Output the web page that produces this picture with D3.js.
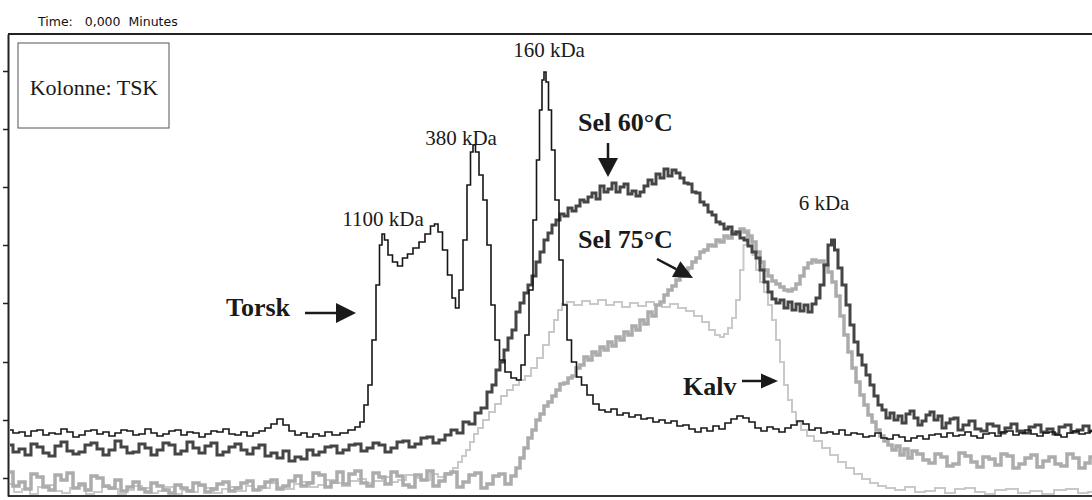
<!DOCTYPE html>
<html>
<head>
<meta charset="utf-8">
<script src="https://cdn.jsdelivr.net/npm/d3@7"></script>
<style>
  body { margin: 0; background: #fff; }
  svg { display: block; }
  .label { font-family: "Liberation Serif", "Times New Roman", serif; font-size: 21px; fill: #1a1a1a; }
  .tag { font-family: "Liberation Serif", "Times New Roman", serif; font-size: 26px; font-weight: bold; fill: #1a1a1a; }
</style>
</head>
<body>
<script>
var w = 1092;
var h = 500;

// time in scan seconds, signal in mV
var torsk = [
  [2,48],[8,45],[14,46],[20,42],[26,47],[32,48],[38,43],[44,45],[50,44],[56,49],[62,46],[68,41],[74,43],[80,47],
  [86,48],[92,44],[98,46],[104,42],[110,45],[116,48],[122,47],[128,43],[134,44],[140,49],[146,45],[152,42],[158,44],
  [164,47],[170,48],[176,43],[182,46],[188,45],[194,41],[200,44],[206,47],[212,46],[218,49],[224,44],[230,43],[236,46],
  [242,42],[248,45],[254,47],[260,50],[266,54],[272,59],[278,53],[284,47],[290,43],[296,45],[302,41],[308,44],[314,42],
  [320,46],[328,43],[336,45],[344,48],[350,51],[354,56],[358,73],[362,93],[366,138],[370,193],[373,233],[375,244],
  [378,238],[382,223],[387,216],[392,212],[397,220],[402,224],[408,230],[414,236],[420,244],[425,252],[428,254],
  [432,246],[437,228],[442,203],[446,180],[449,170],[453,188],[457,238],[461,293],[464,326],[466,333],[469,326],
  [473,303],[477,278],[481,233],[485,173],[489,138],[494,118],[500,106],[506,100],[511,98],[515,113],[519,143],
  [523,188],[527,258],[530,318],[533,368],[535,398],[537,406],[539,396],[542,368],[545,328],[549,278],[553,218],
  [557,173],[561,138],[566,116],[571,101],[576,93],[582,83],[588,74],[594,68],[600,66],[606,69],[612,63],[618,65],
  [624,61],[630,63],[636,59],[642,60],[648,56],[654,58],[660,55],[666,57],[672,52],[678,53],[684,49],[690,46],[696,50],
  [702,47],[708,52],[714,49],[720,55],[726,59],[732,62],[738,60],[744,56],[750,50],[756,47],[762,51],[768,49],[774,46],
  [780,50],[786,53],[792,57],[798,54],[804,48],[810,50],[816,45],[822,46],[828,44],[834,48],[840,43],[846,45],[852,44],
  [858,41],[864,42],[870,45],[876,40],[882,39],[888,43],[894,41],[900,37],[906,40],[912,42],[918,39],[924,43],[930,44],
  [936,41],[942,45],[948,42],[954,43],[960,46],[966,42],[972,40],[978,44],[984,45],[990,42],[996,46],[1002,47],[1008,43],
  [1014,45],[1020,48],[1026,44],[1032,42],[1038,45],[1044,46],[1050,43],[1056,41],[1062,45],[1068,47],[1074,44],
  [1080,45],[1084,47]
];

var sel60 = [
  [2,33],[8,26],[14,29],[20,23],[26,34],[32,31],[38,25],[44,22],[50,32],[56,36],[62,27],[68,24],[74,26],[80,33],[86,35],
  [92,29],[98,23],[104,28],[110,37],[116,31],[122,25],[128,26],[134,34],[140,30],[146,23],[152,28],[158,35],[164,33],
  [170,24],[176,27],[182,36],[188,30],[194,25],[200,32],[206,35],[212,23],[218,26],[224,31],[230,34],[236,28],[242,24],
  [248,30],[254,33],[260,22],[266,25],[272,20],[278,27],[284,17],[290,21],[296,19],[302,28],[308,23],[314,26],[320,31],
  [326,32],[332,25],[338,28],[344,33],[350,34],[356,27],[362,30],[368,35],[374,33],[380,26],[386,30],[392,36],[398,37],
  [404,31],[410,34],[416,40],[422,41],[428,35],[434,38],[440,43],[446,48],[452,45],[458,56],[464,54],[470,65],[476,70],
  [482,86],[486,93],[490,108],[494,116],[498,128],[502,140],[506,148],[510,166],[514,175],[518,185],[522,193],[526,202],
  [530,216],[534,226],[538,238],[542,245],[546,253],[550,258],[554,264],[558,262],[562,270],[566,267],[570,272],[574,278],
  [578,276],[582,281],[586,285],[590,279],[594,292],[598,286],[602,289],[606,295],[610,286],[614,291],[618,294],[622,284],
  [626,287],[630,282],[634,286],[638,292],[642,298],[646,294],[650,304],[654,300],[658,309],[662,302],[666,308],[670,305],
  [674,300],[678,295],[682,294],[686,286],[690,285],[694,276],[698,273],[702,266],[706,263],[710,256],[714,254],[718,249],
  [722,251],[726,244],[730,246],[734,240],[738,238],[742,232],[746,226],[750,220],[754,208],[758,196],[762,186],[766,179],
  [770,175],[774,178],[778,170],[782,176],[786,168],[790,174],[794,167],[798,173],[802,166],[806,174],[810,180],[814,193],
  [818,213],[822,233],[825,238],[828,228],[832,210],[836,193],[840,173],[844,153],[848,136],[852,123],[856,113],[860,103],
  [864,93],[868,82],[872,73],[876,68],[880,60],[884,65],[888,58],[892,62],[896,55],[900,64],[904,67],[908,60],[912,53],
  [916,57],[920,63],[924,66],[928,58],[932,62],[936,50],[940,55],[944,59],[948,60],[952,48],[958,53],[964,57],[970,49],
  [976,47],[982,54],[988,52],[994,45],[1000,50],[1006,54],[1012,47],[1018,45],[1024,51],[1030,53],[1036,46],[1042,49],
  [1048,44],[1054,51],[1060,53],[1066,46],[1072,48],[1078,52],[1084,47]
];

var sel75 = [
  [2,6],[8,-8],[14,-4],[20,-11],[26,4],[32,1],[38,-9],[44,-12],[50,3],[56,-2],[62,5],[68,-10],[74,-6],[80,-12],[86,2],
  [92,0],[98,-8],[104,-10],[110,-2],[116,-13],[122,-9],[128,-4],[134,-11],[140,-14],[146,-5],[152,-8],[158,-12],[164,-15],
  [170,-7],[176,-10],[182,-13],[188,-5],[194,-7],[200,-14],[206,-11],[212,-6],[218,-4],[224,-13],[230,-10],[236,-5],
  [242,-3],[248,-12],[254,-9],[260,-4],[266,-2],[272,-11],[278,-8],[284,-3],[290,2],[296,-8],[302,-5],[308,5],[314,3],
  [320,-9],[326,-4],[332,6],[338,-6],[344,4],[350,7],[356,-5],[362,-8],[368,5],[374,1],[380,-6],[386,6],[392,2],[398,-7],
  [404,-9],[410,3],[416,-2],[422,7],[428,-8],[434,-3],[440,4],[446,6],[452,-9],[458,-4],[464,3],[470,5],[476,-10],[482,-6],
  [488,2],[494,4],[500,-6],[506,2],[510,10],[514,20],[518,30],[522,40],[526,48],[530,58],[534,64],[538,72],[542,76],
  [546,82],[550,88],[554,94],[558,95],[562,100],[566,102],[570,110],[574,113],[578,121],[582,118],[586,126],[590,123],
  [594,131],[598,128],[602,136],[606,132],[610,141],[614,138],[618,146],[622,143],[626,152],[630,148],[634,158],[638,154],
  [642,166],[646,162],[650,173],[654,176],[658,183],[662,188],[666,192],[670,198],[674,202],[678,206],[682,210],[686,216],
  [690,220],[694,226],[698,228],[702,233],[706,232],[710,238],[714,236],[718,242],[722,240],[726,246],[730,244],[734,249],
  [738,246],[742,242],[746,236],[750,226],[754,216],[758,208],[762,202],[766,197],[770,194],[774,191],[778,188],[782,187],
  [786,189],[790,194],[794,202],[798,210],[802,215],[806,218],[810,216],[814,217],[818,213],[822,206],[826,196],[830,182],
  [834,162],[838,143],[842,126],[846,110],[850,96],[854,83],[858,73],[862,63],[866,56],[870,48],[874,42],[878,37],
  [882,33],[886,28],[890,32],[894,23],[898,29],[902,20],[906,27],[912,24],[918,18],[924,15],[930,24],[936,21],[942,12],
  [948,14],[954,25],[960,22],[966,16],[972,11],[978,21],[984,19],[990,13],[996,24],[1002,22],[1008,10],[1014,14],
  [1020,20],[1026,23],[1032,11],[1038,17],[1044,21],[1050,14],[1056,12],[1062,24],[1068,20],[1074,10],[1080,15],[1084,21]
];

var kalv = [
  [2,-6],[10,-14],[18,-11],[26,-16],[34,-9],[42,-7],[50,-13],[58,-15],[66,-10],[74,-8],[82,-16],[90,-14],[98,-9],
  [106,-11],[114,-16],[122,-12],[130,-8],[138,-10],[146,-15],[154,-13],[162,-9],[170,-16],[178,-12],[186,-14],[194,-8],
  [202,-10],[210,-15],[218,-11],[226,-9],[234,-13],[242,-8],[250,-12],[258,-10],[266,-5],[274,-9],[282,-11],[290,-6],
  [298,-4],[306,-9],[314,-7],[322,-2],[330,-5],[338,-8],[346,-3],[354,-1],[362,-5],[370,-3],[378,1],[386,-4],[394,-2],
  [402,3],[410,0],[418,-2],[426,4],[434,1],[442,5],[448,10],[452,16],[456,22],[460,28],[464,36],[468,44],[472,50],
  [478,58],[484,66],[490,74],[496,82],[502,88],[508,93],[514,98],[520,102],[526,110],[532,120],[538,133],[544,146],
  [548,158],[552,168],[556,174],[562,176],[570,173],[578,177],[586,174],[594,178],[602,173],[610,176],[618,171],[626,175],
  [634,172],[642,176],[650,173],[658,171],[666,174],[674,170],[682,167],[690,162],[698,156],[704,148],[710,143],[714,141],
  [718,144],[722,150],[726,160],[730,178],[734,208],[737,233],[740,248],[743,240],[746,223],[750,208],[754,196],[758,186],
  [762,173],[766,158],[770,138],[774,116],[778,93],[782,78],[786,66],[790,56],[796,48],[802,42],[810,37],[818,30],
  [826,23],[834,16],[842,10],[850,4],[858,-1],[866,-5],[874,-8],[882,-10],[892,-12],[902,-9],[912,-14],[922,-13],
  [932,-10],[942,-15],[952,-11],[962,-10],[972,-14],[982,-16],[992,-12],[1004,-11],[1016,-15],[1028,-13],[1040,-16],
  [1052,-12],[1064,-11],[1076,-15],[1084,-14]
];

var yTicks = [0, 58, 116, 175, 233, 291, 349, 407];

var peakLabels = [
  { text: "1100 kDa", t: 375, v: 252 },
  { text: "380 kDa", t: 453, v: 333 },
  { text: "160 kDa", t: 541, v: 421 },
  { text: "6 kDa", t: 816, v: 268 }
];

var sampleTags = [
  { text: "Sel 60°C", t: 570, v: 347 },
  { text: "Sel 75°C", t: 570, v: 230 },
  { text: "Torsk", t: 218, v: 162 },
  { text: "Kalv", t: 675, v: 83 }
];

var arrows = [
  { from: [600, 335], to: [600, 301], head: 19, width: 20 },
  { from: [649, 219], to: [685, 200], head: 19, width: 18 },
  { from: [297, 165], to: [348, 165], head: 20, width: 20 },
  { from: [734, 97], to: [770, 97], head: 17, width: 15 }
];

var svg = d3.select("body").append("svg")
  .attr("width", w)
  .attr("height", h);

var x = d3.scaleLinear().domain([0, 1084]).range([8, 1092]);
var y = d3.scaleLinear().domain([-18, 444]).range([496, 34]);

svg.append("clipPath").attr("id", "plot")
  .append("rect")
  .attr("x", 9).attr("y", 35)
  .attr("width", w - 9).attr("height", 460);

// header
svg.append("text")
  .attr("x", 38)
  .attr("y", 26)
  .style("font-family", "'DejaVu Sans', sans-serif")
  .style("font-size", "12.5px")
  .style("fill", "#111")
  .style("white-space", "pre")
  .text("Time:   0,000  Minutes");

// frame
svg.append("line")
  .attr("x1", 8).attr("x2", w).attr("y1", 34).attr("y2", 34)
  .style("stroke", "#222").style("stroke-width", 2);
svg.append("line")
  .attr("x1", 8).attr("x2", w).attr("y1", 496).attr("y2", 496)
  .style("stroke", "#333").style("stroke-width", 2);

var axis = svg.append("g")
  .attr("transform", "translate(8,0)")
  .call(d3.axisLeft(y).tickValues(yTicks).tickSize(5).tickSizeOuter(0).tickFormat(""));
axis.select(".domain").style("stroke", "#222").style("stroke-width", 2);
axis.selectAll(".tick line").style("stroke", "#222").style("stroke-width", 1.5);

// column box
svg.append("rect")
  .attr("x", 18).attr("y", 43)
  .attr("width", 151).attr("height", 85)
  .style("fill", "none").style("stroke", "#555").style("stroke-width", 1);
svg.append("text")
  .attr("class", "label")
  .attr("x", 94).attr("y", 95)
  .attr("text-anchor", "middle")
  .style("font-size", "22px")
  .text("Kolonne: TSK");

/**
 * Draws one chromatogram trace.
 *
 * @param {*} data [time, signal] pairs
 * @param {*} color stroke colour
 * @param {*} width stroke width
 */
function drawTrace(data, color, width) {
  var line = d3.line()
    .x(d => x(d[0]))
    .y(d => y(d[1]))
    .curve(d3.curveStep);

  svg.append("path")
    .datum(data)
    .attr("clip-path", "url(#plot)")
    .attr("d", line)
    .style("fill", "none")
    .style("stroke", color)
    .style("stroke-width", width)
    .style("stroke-linejoin", "miter");
}

drawTrace(kalv, "#c9c9c9", 2);
drawTrace(sel75, "#acacac", 3.5);
drawTrace(sel60, "#454545", 3);
drawTrace(torsk, "#161616", 1.6);

// peak labels
svg.selectAll(".peak")
  .data(peakLabels)
  .enter().append("text")
  .attr("class", "label")
  .attr("x", d => x(d.t))
  .attr("y", d => y(d.v))
  .attr("text-anchor", "middle")
  .text(d => d.text);

// sample names
svg.selectAll(".tagtext")
  .data(sampleTags)
  .enter().append("text")
  .attr("class", "tag")
  .attr("x", d => x(d.t))
  .attr("y", d => y(d.v))
  .text(d => d.text);

// arrows: shaft plus filled head
arrows.forEach(function (a) {
  var x0 = x(a.from[0]), y0 = y(a.from[1]);
  var x1 = x(a.to[0]), y1 = y(a.to[1]);
  var len = Math.hypot(x1 - x0, y1 - y0);
  var ux = (x1 - x0) / len, uy = (y1 - y0) / len;
  var bx = x1 - ux * a.head, by = y1 - uy * a.head;
  var px = -uy * a.width / 2, py = ux * a.width / 2;

  svg.append("line")
    .attr("x1", x0).attr("y1", y0)
    .attr("x2", bx).attr("y2", by)
    .style("stroke", "#1a1a1a").style("stroke-width", 2.5);

  svg.append("path")
    .attr("d", "M" + [x1, y1] + "L" + [bx + px, by + py] + "L" + [bx - px, by - py] + "Z")
    .style("fill", "#1a1a1a");
});
</script>
</body>
</html>
